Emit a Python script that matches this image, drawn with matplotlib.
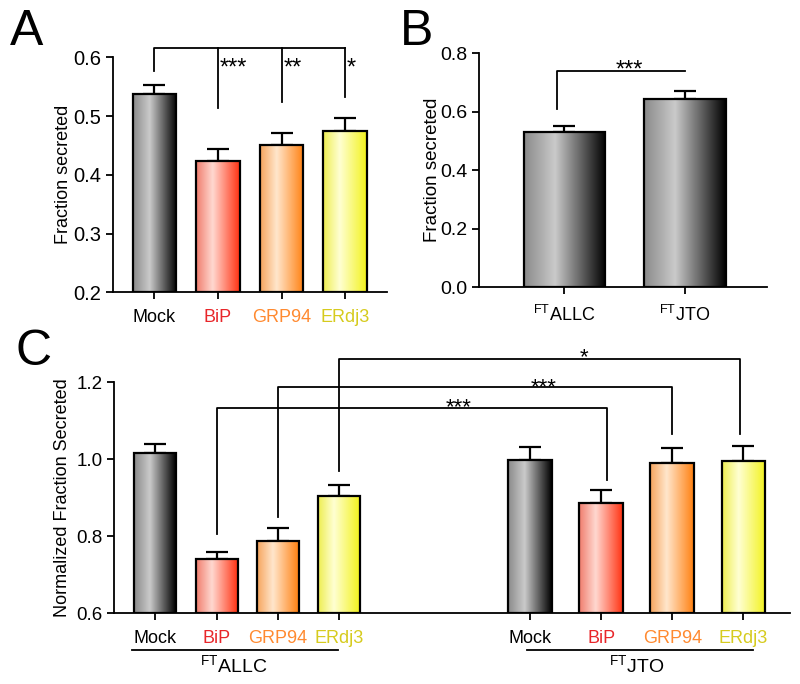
"""Fraction secreted bar panels (A, B, C) with gradient-filled bars and significance brackets."""
import matplotlib
matplotlib.use('Agg')
import matplotlib.pyplot as plt
import numpy as np
from matplotlib.colors import LinearSegmentedColormap

plt.rcParams['font.family'] = ['Liberation Sans', 'DejaVu Sans']
plt.rcParams['mathtext.fontset'] = 'custom'
plt.rcParams['mathtext.rm'] = 'Liberation Sans'

# --- data -------------------------------------------------------------
chaperones = ['Mock', 'BiP', 'GRP94', 'ERdj3']

a_mean = [0.537, 0.424, 0.451, 0.474]
a_sem = [0.015, 0.019, 0.020, 0.023]

b_labels = [r'$^{\rm FT}$ALLC', r'$^{\rm FT}$JTO']
b_mean = [0.532, 0.645]
b_sem = [0.019, 0.026]

c_groups = [r'$^{\rm FT}$ALLC', r'$^{\rm FT}$JTO']
c_allc_mean = [1.015, 0.742, 0.788, 0.905]
c_allc_sem = [0.023, 0.016, 0.034, 0.027]
c_jto_mean = [0.999, 0.885, 0.991, 0.996]
c_jto_sem = [0.032, 0.034, 0.037, 0.037]

# --- styles -----------------------------------------------------------
LABEL_COLORS = {'Mock': 'black', 'BiP': '#e8262a', 'GRP94': '#ff8a30', 'ERdj3': '#d6cb1e'}
GRADIENTS = {
    'Mock': ['#8a8a8a', '#cacaca', '#000000'],
    'BiP': ['#f07c6c', '#ffd8d0', '#ff3212'],
    'GRP94': ['#f6a45c', '#ffe6cc', '#ff8010'],
    'ERdj3': ['#eeee50', '#ffffd2', '#f2f21c'],
}
FS = 13
STAR_FS = 17


def cmap_for(name):
    c0, c1, c2 = GRADIENTS[name]
    return LinearSegmentedColormap.from_list(name, [(0, c0), (0.38, c1), (1, c2)])


def grad_bars(ax, xs, means, sems, names, width, base):
    ramp = np.linspace(0, 1, 256).reshape(1, -1)
    for x, m, s, n in zip(xs, means, sems, names):
        ax.imshow(ramp, cmap=cmap_for(n), aspect='auto', zorder=2,
                  extent=[x - width / 2, x + width / 2, base, m], interpolation='bilinear')
        ax.bar(x, m - base, bottom=base, width=width, facecolor='none',
               edgecolor='black', linewidth=1.6, zorder=3)
        ax.errorbar(x, m, yerr=[[0], [s]], fmt='none', ecolor='black',
                    elinewidth=1.6, capsize=7.8, capthick=1.6, zorder=1)


def style_axes(ax, ysize, xpad):
    for side in ('top', 'right'):
        ax.spines[side].set_visible(False)
    for side in ('left', 'bottom'):
        ax.spines[side].set_linewidth(1.3)
    ax.tick_params(direction='out', length=5, width=1.3)
    ax.tick_params(axis='y', labelsize=ysize)
    ax.tick_params(axis='x', labelsize=FS, pad=xpad)


def bracket(ax, pts):
    xs, ys = zip(*pts)
    ax.plot(xs, ys, color='black', lw=1.3, clip_on=False, zorder=4)


fig = plt.figure(figsize=(8, 6.84), dpi=100)

# --- panel A ----------------------------------------------------------
axA = fig.add_axes([0.1409, 0.5727, 0.3425, 0.3436])
xa = np.arange(len(chaperones))
grad_bars(axA, xa, a_mean, a_sem, chaperones, 0.68, 0.2)
axA.set_xlim(-0.655, 3.655)
axA.set_ylim(0.2, 0.6)
axA.set_yticks([0.2, 0.3, 0.4, 0.5, 0.6])
axA.set_xticks(xa)
axA.set_xticklabels(chaperones)
for t in axA.get_xticklabels():
    t.set_color(LABEL_COLORS[t.get_text()])
axA.set_ylabel('Fraction secreted', fontsize=FS, labelpad=1)
style_axes(axA, 14.5, 7)
top = 0.616
bracket(axA, [(0, 0.577), (0, top), (3, top)])
for i, (y0, stars) in enumerate([(0.513, '***'), (0.523, '**'), (0.533, '*')], start=1):
    bracket(axA, [(i, top), (i, y0)])
    axA.text(i + 0.03, 0.571, stars, fontsize=STAR_FS, ha='left', va='baseline')

# --- panel B ----------------------------------------------------------
axB = fig.add_axes([0.5988, 0.58, 0.3596, 0.3421])
xb = np.arange(len(b_mean))
grad_bars(axB, xb, b_mean, b_sem, ['Mock', 'Mock'], 0.677, 0.0)
axB.set_xlim(-0.707, 1.677)
axB.set_ylim(0, 0.8)
axB.set_yticks([0, 0.2, 0.4, 0.6, 0.8])
axB.set_yticklabels(['0.0', '0.2', '0.4', '0.6', '0.8'])
axB.set_xticks(xb)
axB.set_xticklabels(b_labels)
axB.set_ylabel('Fraction secreted', fontsize=FS + 0.5, labelpad=-1)
style_axes(axB, 14, 8)
bracket(axB, [(-0.06, 0.611), (-0.06, 0.739), (1.0, 0.739)])
axB.text(0.536, 0.722, '***', fontsize=STAR_FS, ha='center', va='baseline')

# --- panel C ----------------------------------------------------------
axC = fig.add_axes([0.1429, 0.1033, 0.8446, 0.3382])
x_allc = [0, 1, 2, 3]
x_jto = [6.11, 7.27, 8.43, 9.59]
grad_bars(axC, x_allc, c_allc_mean, c_allc_sem, chaperones, 0.68, 0.6)
grad_bars(axC, x_jto, c_jto_mean, c_jto_sem, chaperones, 0.71, 0.6)
axC.set_xlim(-0.669, 10.35)
axC.set_ylim(0.6, 1.2)
axC.set_yticks([0.6, 0.8, 1.0, 1.2])
axC.set_xticks(x_allc + x_jto)
axC.set_xticklabels(chaperones * 2)
for t in axC.get_xticklabels():
    t.set_color(LABEL_COLORS[t.get_text()])
axC.set_ylabel('Normalized Fraction Secreted', fontsize=FS)
style_axes(axC, 13.5, 7)

links = [  # (left x, left drop, right x, right drop, height, stars, star x, star baseline)
    (1, 0.807, 7.36, 0.946, 1.133, '***', 4.945, 1.118),
    (2, 0.850, 8.43, 1.065, 1.188, '***', 6.34, 1.170),
    (3, 0.970, 9.53, 1.065, 1.260, '*', 6.998, 1.2496),
]
for xl, yl, xr, yr, h, stars, sx, sy in links:
    bracket(axC, [(xl, yl), (xl, h), (xr, h), (xr, yr)])
    axC.text(sx, sy, stars, fontsize=STAR_FS - 1, ha='center', va='baseline', clip_on=False)

for (x0, x1, xc), name in zip([(-0.375, 2.985, 1.27), (6.06, 9.75, 7.853)], c_groups):
    axC.plot([x0, x1], [0.505, 0.505], color='black', lw=1.3, clip_on=False)
    axC.text(xc, 0.446, name, fontsize=FS + 1, ha='center', va='baseline', clip_on=False)

# --- panel letters ----------------------------------------------------
for x, y, s in [(0.0125, 0.934, 'A'), (0.5, 0.934, 'B'), (0.019, 0.4664, 'C')]:
    fig.text(x, y, s, fontsize=36, ha='left', va='baseline')

fig.savefig('out.png', dpi=100)
